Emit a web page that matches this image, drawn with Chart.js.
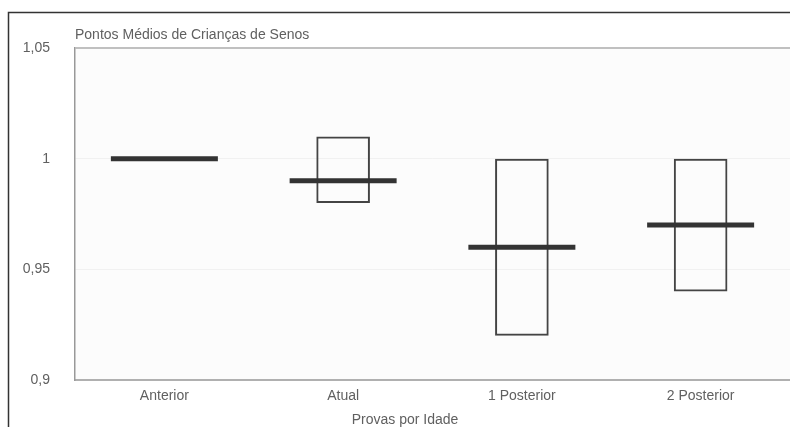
<!DOCTYPE html>
<html lang="pt">
<head>
<meta charset="utf-8">
<title>Pontos Médios de Crianças de Senos</title>
<script src="https://cdn.jsdelivr.net/npm/chart.js@4.4.1/dist/chart.umd.min.js"></script>
<style>
  html, body { margin: 0; padding: 0; background: #ffffff; }
  #wrap { width: 790px; height: 427px; position: relative; }
</style>
</head>
<body>
<div id="wrap"><canvas id="chart" width="790" height="427"></canvas></div>
<script>
// Categories and values
const categories = ['Anterior', 'Atual', '1 Posterior', '2 Posterior'];
const rangeLow   = [null, 0.98, 0.92, 0.94];
const rangeHigh  = [null, 1.01, 1.00, 1.00];
const meanValues = [1.00, 0.99, 0.96, 0.97];
const yTicks     = [0.9, 0.95, 1, 1.05];

const chartTitle = 'Pontos Médios de Crianças de Senos';
const xTitle = 'Provas por Idade';

const FONT = '"Liberation Sans", Arial, sans-serif';
const FONT_SIZE = 14;
const TEXT_COLOR = '#606060';

// Frame, plot background, title texts
const decor = {
  id: 'decor',
  beforeDraw(chart) {
    const { ctx, chartArea: a } = chart;
    ctx.save();
    ctx.fillStyle = '#fcfcfc';
    ctx.fillRect(a.left, a.top, a.right - a.left, a.bottom - a.top);
    ctx.restore();
  },
  afterDraw(chart) {
    const { ctx, chartArea: a } = chart;
    ctx.save();
    // outer frame (left + top)
    ctx.strokeStyle = '#333333';
    ctx.lineWidth = 1.5;
    ctx.beginPath();
    ctx.moveTo(8.5, 427);
    ctx.lineTo(8.5, 12.5);
    ctx.lineTo(790, 12.5);
    ctx.stroke();
    // chart title
    ctx.fillStyle = TEXT_COLOR;
    ctx.font = FONT_SIZE + 'px ' + FONT;
    ctx.textAlign = 'left';
    ctx.textBaseline = 'middle';
    ctx.fillText(chartTitle, a.left, 35);
    // x axis title
    ctx.textAlign = 'center';
    ctx.fillText(xTitle, 405, 420);
    ctx.restore();
  }
};

new Chart(document.getElementById('chart'), {
  data: {
    labels: categories,
    datasets: [
      {
        type: 'bar',
        label: 'Intervalo',
        data: categories.map((c, i) => rangeLow[i] === null ? null : [rangeLow[i], rangeHigh[i]]),
        backgroundColor: 'rgba(0,0,0,0)',
        borderColor: '#444444',
        borderWidth: 2,
        borderSkipped: false,
        categoryPercentage: 1,
        barPercentage: 0.3,
        order: 2
      },
      {
        type: 'line',
        label: 'Média',
        data: meanValues,
        showLine: false,
        pointStyle: 'line',
        pointRadius: 53.5,
        pointHoverRadius: 53.5,
        pointBorderWidth: 5,
        pointBorderColor: '#333333',
        borderColor: '#333333',
        clip: false,
        order: 1
      }
    ]
  },
  options: {
    responsive: false,
    animation: false,
    events: [],
    layout: { autoPadding: false, padding: { top: 48, right: 0, bottom: 0, left: 0 } },
    plugins: {
      legend: { display: false },
      title: { display: false },
      tooltip: { enabled: false }
    },
    scales: {
      x: {
        type: 'category',
        offset: true,
        grid: { display: false, drawTicks: false },
        border: { display: true, color: '#b0b0b0', width: 2 },
        ticks: { color: TEXT_COLOR, font: { family: FONT, size: FONT_SIZE }, padding: 8, maxRotation: 0 },
        afterFit(s) { s.height = 47; }
      },
      y: {
        min: 0.9,
        max: 1.05,
        afterBuildTicks(s) { s.ticks = yTicks.map(v => ({ value: v })); },
        grid: {
          drawTicks: false,
          color: c => (c.tick && (c.tick.value === 1.05)) ? '#c0c0c0' : '#f1f1f1',
          lineWidth: c => (c.tick && (c.tick.value === 1.05)) ? 2 : 1
        },
        border: { display: true, color: '#999999', width: 1.5 },
        ticks: {
          color: TEXT_COLOR,
          font: { family: FONT, size: FONT_SIZE },
          padding: 25,
          callback: v => String(v).replace('.', ',')
        },
        afterFit(s) { s.width = 75; }
      }
    }
  },
  plugins: [decor]
});
</script>
</body>
</html>
